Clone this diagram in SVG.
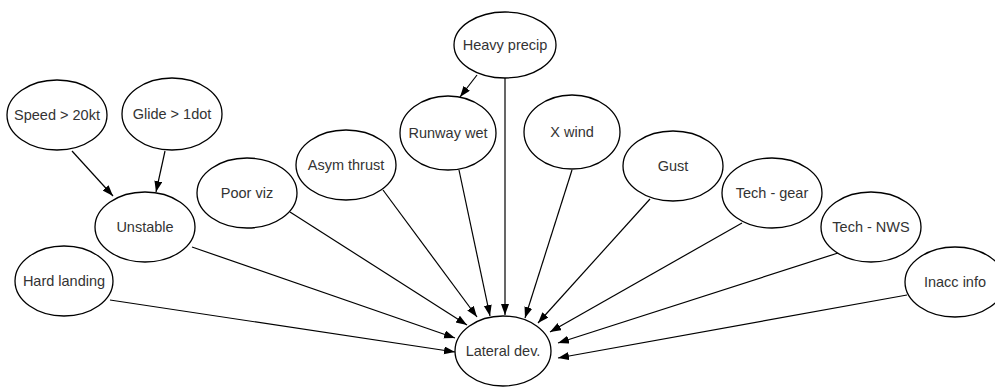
<svg xmlns="http://www.w3.org/2000/svg" width="995" height="387" viewBox="0 0 995 387">
<style>
.n ellipse{fill:#fff;stroke:#000;stroke-width:1.3}
.n text{font-family:"Liberation Sans",Arial,sans-serif;font-size:14.5px;fill:#333;text-anchor:middle}
.e line{stroke:#000;stroke-width:1.2;marker-end:url(#ah)}
</style>
<defs>
<marker id="ah" markerUnits="userSpaceOnUse" markerWidth="12" markerHeight="9" refX="11" refY="4" orient="auto">
<path d="M0,0 L11,4 L0,8 z" fill="#000"/>
</marker>
</defs>
<rect width="995" height="387" fill="#fff"/>
<g class="e" id="connectors">
<line x1="72" y1="151" x2="113" y2="196"/>
<line x1="165" y1="151" x2="156" y2="192"/>
<line x1="477" y1="75" x2="460" y2="97"/>
<line x1="505" y1="78" x2="505" y2="315"/>
<line x1="110" y1="300" x2="455" y2="352"/>
<line x1="192" y1="247" x2="455" y2="338"/>
<line x1="290" y1="212" x2="467" y2="325"/>
<line x1="383" y1="190" x2="477" y2="317"/>
<line x1="459" y1="170" x2="490" y2="316"/>
<line x1="572" y1="170" x2="525" y2="318"/>
<line x1="650" y1="199" x2="538" y2="323"/>
<line x1="742" y1="223" x2="550" y2="332"/>
<line x1="838" y1="253" x2="558" y2="343"/>
<line x1="907" y1="295" x2="558" y2="358"/>
</g>
<g class="n" id="speed"><ellipse cx="57" cy="115" rx="50" ry="35"/><text x="57" y="120">Speed &gt; 20kt</text></g>
<g class="n" id="glide"><ellipse cx="172" cy="114" rx="50" ry="36"/><text x="172" y="119">Glide &gt; 1dot</text></g>
<g class="n" id="unstable"><ellipse cx="145" cy="227" rx="50" ry="35"/><text x="145" y="232">Unstable</text></g>
<g class="n" id="hard"><ellipse cx="64" cy="281" rx="49" ry="35"/><text x="64" y="286">Hard landing</text></g>
<g class="n" id="heavy"><ellipse cx="505" cy="45" rx="51" ry="33"/><text x="505" y="50">Heavy precip</text></g>
<g class="n" id="runway"><ellipse cx="448" cy="133" rx="48" ry="37"/><text x="448" y="138">Runway wet</text></g>
<g class="n" id="xwind"><ellipse cx="572" cy="132" rx="48" ry="37"/><text x="572" y="137">X wind</text></g>
<g class="n" id="poorviz"><ellipse cx="247" cy="193" rx="50" ry="35"/><text x="247" y="198">Poor viz</text></g>
<g class="n" id="asym"><ellipse cx="346" cy="165" rx="50" ry="35"/><text x="346" y="170">Asym thrust</text></g>
<g class="n" id="gust"><ellipse cx="673" cy="166" rx="50" ry="35"/><text x="673" y="171">Gust</text></g>
<g class="n" id="gear"><ellipse cx="772" cy="193" rx="50" ry="35"/><text x="772" y="198">Tech - gear</text></g>
<g class="n" id="nws"><ellipse cx="871" cy="227" rx="50" ry="35"/><text x="871" y="232">Tech - NWS</text></g>
<g class="n" id="inacc"><ellipse cx="955" cy="282" rx="50" ry="35"/><text x="955" y="287">Inacc info</text></g>
<g class="n" id="lateral"><ellipse cx="503" cy="351" rx="48" ry="35"/><text x="503" y="356">Lateral dev.</text></g>
</svg>
